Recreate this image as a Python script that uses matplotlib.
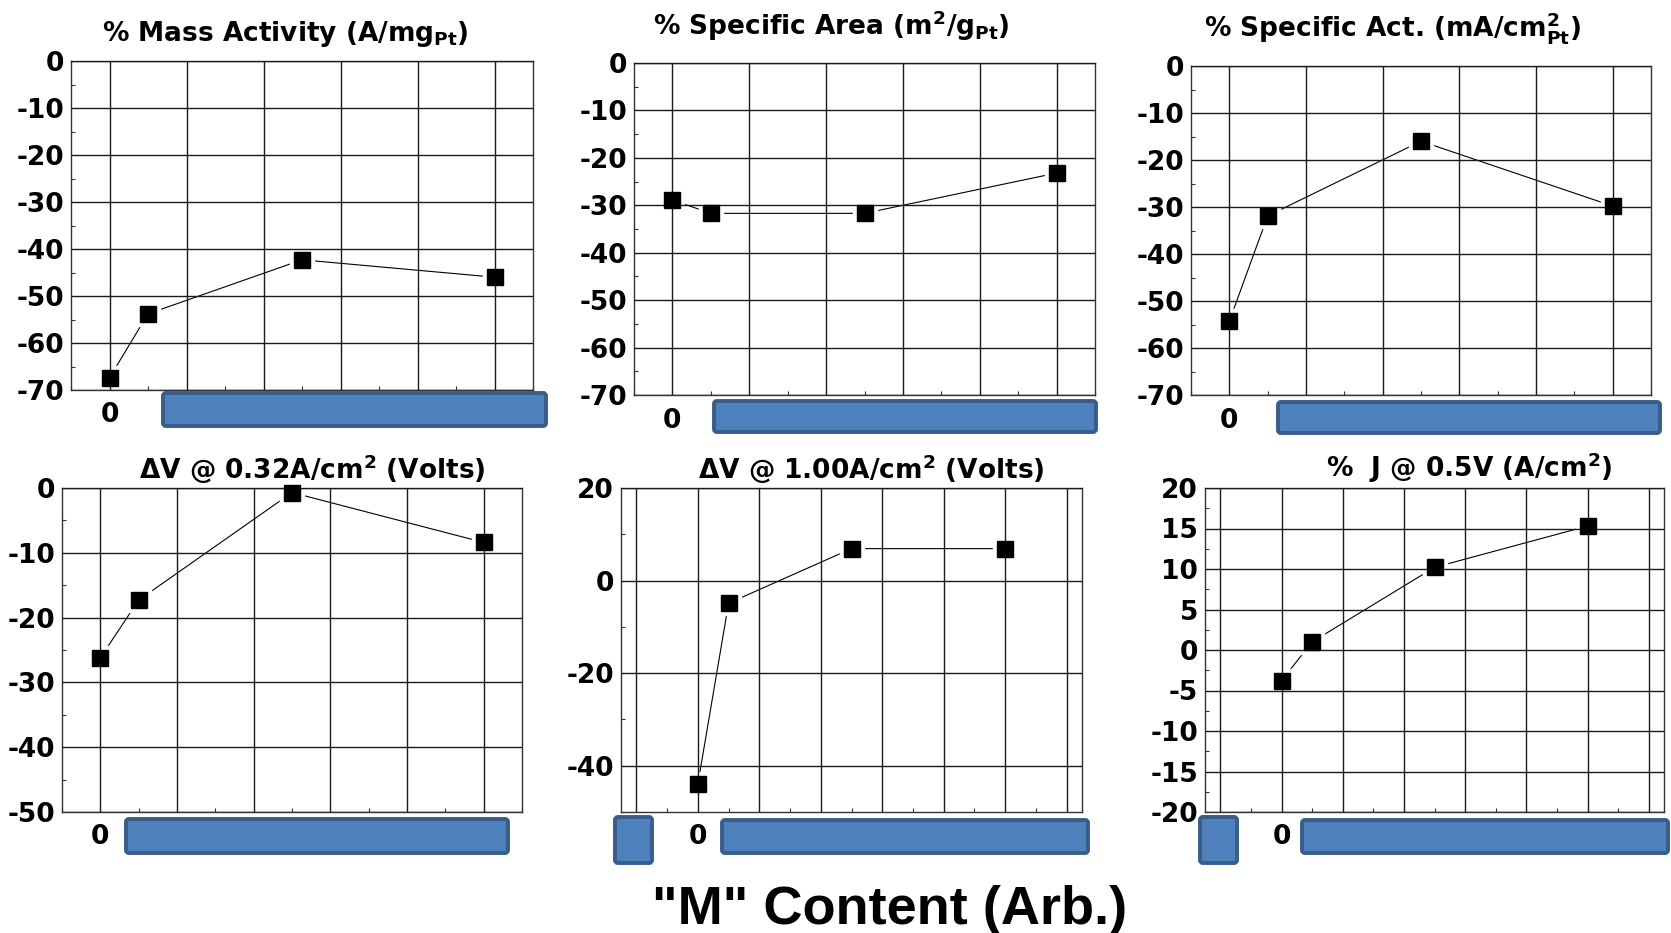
import matplotlib
matplotlib.use("Agg")
import matplotlib.pyplot as plt
from matplotlib.ticker import MultipleLocator, FuncFormatter
from matplotlib.patches import FancyBboxPatch

W, H = 1671, 933

# x position of each sample ("M" content, arbitrary units)
x_content = [0, 0.5, 2.5, 5]

mass_activity = [-67.4, -53.8, -42.3, -46.0]
specific_area = [-28.9, -31.7, -31.7, -23.2]
specific_act = [-54.3, -31.9, -16.0, -29.8]
dv_032 = [-26.2, -17.3, -0.7, -8.4]
dv_100 = [-44.0, -4.9, 6.9, 6.9]
j_05 = [-3.8, 1.0, 10.2, 15.3]

series = [mass_activity, specific_area, specific_act, dv_032, dv_100, j_05]

titles = [
    r"% Mass Activity (A/mg$_{\mathbf{Pt}}$)",
    r"% Specific Area (m$^{\mathbf{2}}$/g$_{\mathbf{Pt}}$)",
    r"% Specific Act. (mA/cm$^{\mathbf{2}}_{\mathbf{Pt}}$)",
    r"ΔV @ 0.32A/cm$^{\mathbf{2}}$ (Volts)",
    r"ΔV @ 1.00A/cm$^{\mathbf{2}}$ (Volts)",
    r"%  J @ 0.5V (A/cm$^{\mathbf{2}}$)",
]
ylims = [(-70, 0), (-70, 0), (-70, 0), (-50, 0), (-50, 20), (-20, 20)]
ysteps = [10, 10, 10, 10, 20, 5]
xlims = [(-0.5, 5.5)] * 4 + [(-1.25, 6.25)] * 2

# layout in pixels: left, top, right, bottom
axes_px = [
    (71, 61, 533, 390),
    (634, 63, 1095, 395),
    (1191, 66, 1651, 395),
    (62, 488, 522, 812),
    (621, 488, 1082, 812),
    (1205, 488, 1664, 812),
]
title_px = [(285, 41), (831, 35), (1393, 37), (312, 479), (871, 479), (1469, 477)]
boxes_px = [
    (163, 393, 546, 426),
    (714, 401, 1096, 432),
    (1278, 402, 1660, 433),
    (126, 819, 508, 853),
    (615, 817, 652, 863),
    (722, 820, 1088, 853),
    (1200, 817, 1237, 863),
    (1302, 820, 1668, 853),
]

plt.rcParams["font.family"] = "DejaVu Sans"
plt.rcParams["font.weight"] = "bold"
plt.rcParams["mathtext.fontset"] = "dejavusans"
plt.rcParams["axes.unicode_minus"] = False

fig = plt.figure(figsize=(W / 100, H / 100), dpi=100)


def fig_rect(l, t, r, b):
    return [l / W, 1 - b / H, (r - l) / W, (b - t) / H]


zero_only = FuncFormatter(lambda v, p: "0" if abs(v) < 1e-9 else "")

for i in range(6):
    ax = fig.add_axes(fig_rect(*axes_px[i]))
    ax.set_xlim(xlims[i])
    ax.set_ylim(ylims[i])
    ax.xaxis.set_major_locator(MultipleLocator(1))
    ax.xaxis.set_minor_locator(MultipleLocator(0.5))
    ax.yaxis.set_major_locator(MultipleLocator(ysteps[i]))
    ax.yaxis.set_minor_locator(MultipleLocator(ysteps[i] / 2))
    ax.xaxis.set_major_formatter(zero_only)
    ax.set_axisbelow(False)
    ax.grid(True, which="major", color="#1a1a1a", lw=1.0)
    ax.tick_params(which="major", length=0, labelsize=19, pad=5)
    ax.tick_params(axis="x", which="major", pad=9)
    ax.tick_params(which="minor", direction="in", length=3, width=0.8, color="#333333")
    for s in ax.spines.values():
        s.set_color("#333333")
        s.set_linewidth(1.0)

    ax.plot(x_content, series[i], color="black", lw=0.8, zorder=1)
    ax.plot(x_content, series[i], ls="none", marker="s", ms=17, color="white", zorder=2)
    ax.plot(x_content, series[i], ls="none", marker="s", ms=11, color="black",
            zorder=3, clip_on=False)

    cx, by = title_px[i]
    fig.text(cx / W, 1 - by / H, titles[i], ha="center", va="baseline",
             fontsize=19, fontweight="bold")

# blue placeholder boxes under the x axes, slightly rounded corners
for x0, y0, x1, y1 in boxes_px:
    fig.add_artist(FancyBboxPatch((x0 / W, 1 - y1 / H), (x1 - x0) / W, (y1 - y0) / H,
                                  boxstyle=f"round,pad=0,rounding_size={3 / W}",
                                  mutation_aspect=W / H, transform=fig.transFigure,
                                  fc="#4F81BD", ec="#385D8A", lw=2.8))

fig.text(890 / W, 1 - 924 / H, '"M" Content (Arb.)', ha="center", va="baseline",
         fontsize=39, fontweight="bold", family="Liberation Sans")

fig.savefig("out.png", dpi=100)
